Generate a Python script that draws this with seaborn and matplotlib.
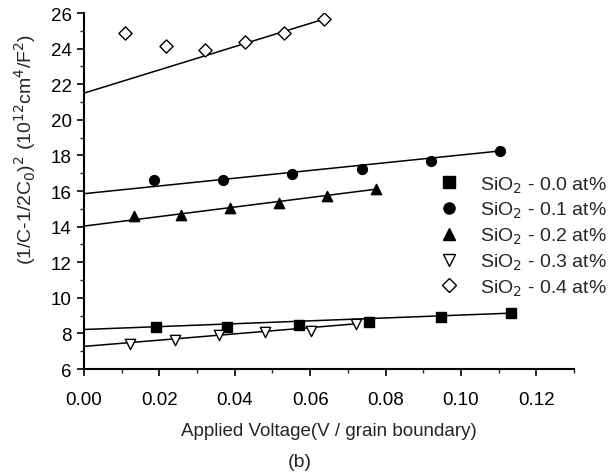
import numpy as np
import pandas as pd
import matplotlib
matplotlib.use("Agg")
import matplotlib.pyplot as plt
from matplotlib.ticker import MultipleLocator, FixedLocator
import seaborn as sns

# ---- data ----
labels = ["SiO$_2$ - 0.0 at%", "SiO$_2$ - 0.1 at%", "SiO$_2$ - 0.2 at%",
          "SiO$_2$ - 0.3 at%", "SiO$_2$ - 0.4 at%"]
x_00 = [0.0192, 0.0379, 0.0570, 0.0756, 0.0946, 0.1134]
y_00 = [8.35, 8.37, 8.48, 8.63, 8.93, 9.14]
x_01 = [0.0186, 0.0369, 0.0553, 0.0738, 0.0921, 0.1104]
y_01 = [16.60, 16.60, 16.94, 17.22, 17.69, 18.25]
x_02 = [0.0132, 0.0258, 0.0388, 0.0517, 0.0645, 0.0774]
y_02 = [14.61, 14.68, 15.02, 15.34, 15.73, 16.10]
x_03 = [0.0122, 0.0241, 0.0359, 0.0481, 0.0601, 0.0722]
y_03 = [7.40, 7.64, 7.92, 8.07, 8.15, 8.54]
x_04 = [0.0110, 0.0217, 0.0321, 0.0426, 0.0531, 0.0637]
y_04 = [24.86, 24.17, 23.94, 24.36, 24.88, 25.66]
# fitted lines: intercept at 0 and value at last point
fit_intercept = [8.22, 15.85, 14.03, 7.27, 21.50]
fit_end = [9.14, 18.25, 16.10, 8.54, 25.66]

xs = [x_00, x_01, x_02, x_03, x_04]
ys = [y_00, y_01, y_02, y_03, y_04]

xticks = [0.00, 0.02, 0.04, 0.06, 0.08, 0.10, 0.12]
xtick_labels = ["0.00", "0.02", "0.04", "0.06", "0.08", "0.10", "0.12"]
yticks = [6, 8, 10, 12, 14, 16, 18, 20, 22, 24, 26]

# ---- styles ----
markers = ["s", "o", "^", "v", "D"]
filled = [True, True, True, False, False]
msizes = [45, 50, 55, 55, 45]

sns.set_style("ticks")
plt.rcParams["font.family"] = ["Liberation Sans", "DejaVu Sans"]

fig = plt.figure(figsize=(6.15, 4.77), dpi=100)
ax = fig.add_axes([0.1366, 0.2243, 0.7967, 0.7463])

handles = []
for i in range(5):
    df = pd.DataFrame({"x": xs[i], "y": ys[i]})
    sns.scatterplot(data=df, x="x", y="y", ax=ax, marker=markers[i], s=msizes[i],
                    color="black" if filled[i] else "white",
                    edgecolor="black", linewidth=1.0, zorder=3)
    dfl = pd.DataFrame({"x": [0.0, xs[i][-1]], "y": [fit_intercept[i], fit_end[i]]})
    sns.lineplot(data=dfl, x="x", y="y", ax=ax, color="black", linewidth=1.1, zorder=2)
    h = plt.Line2D([], [], linestyle="none", marker=markers[i],
                   markersize=8 if markers[i] != "D" else 7,
                   markerfacecolor="black" if filled[i] else "white",
                   markeredgecolor="black", markeredgewidth=1.0, label=labels[i])
    handles.append(h)

ax.set_xlim(0, 0.13)
ax.set_ylim(6, 26)
ax.xaxis.set_major_locator(FixedLocator(xticks))
ax.set_xticklabels(xtick_labels)
ax.xaxis.set_minor_locator(MultipleLocator(0.01))
ax.yaxis.set_major_locator(FixedLocator(yticks))
ax.yaxis.set_minor_locator(MultipleLocator(1))
ax.tick_params(axis="both", which="major", direction="out", length=5, width=1.2,
               labelsize=13.5, colors="black")
ax.tick_params(axis="x", which="major", pad=11)
ax.tick_params(axis="y", which="major", pad=4)
ax.tick_params(axis="both", which="minor", direction="out", length=3, width=1.0)
for s in ["top", "right"]:
    ax.spines[s].set_visible(False)
for s in ["left", "bottom"]:
    ax.spines[s].set_linewidth(1.5)
    ax.spines[s].set_color("black")

ax.set_xlabel("Applied Voltage(V / grain boundary)", fontsize=13.5, labelpad=10)
ax.set_ylabel("(1/C-1/2C$_0$)$^2$ (10$^{12}$cm$^4$/F$^2$)", fontsize=14)
ax.yaxis.set_label_coords(-0.094, 0.62)

leg = ax.legend(handles=handles, loc="upper left", bbox_to_anchor=(0.71, 0.569),
                frameon=False, fontsize=14, handlelength=1.0, handletextpad=1.1,
                labelspacing=0.28, borderaxespad=0)

fig.text(0.488, 0.031, "(b)", fontsize=14, ha="center", va="center")

fig.savefig("out.png", dpi=100)
